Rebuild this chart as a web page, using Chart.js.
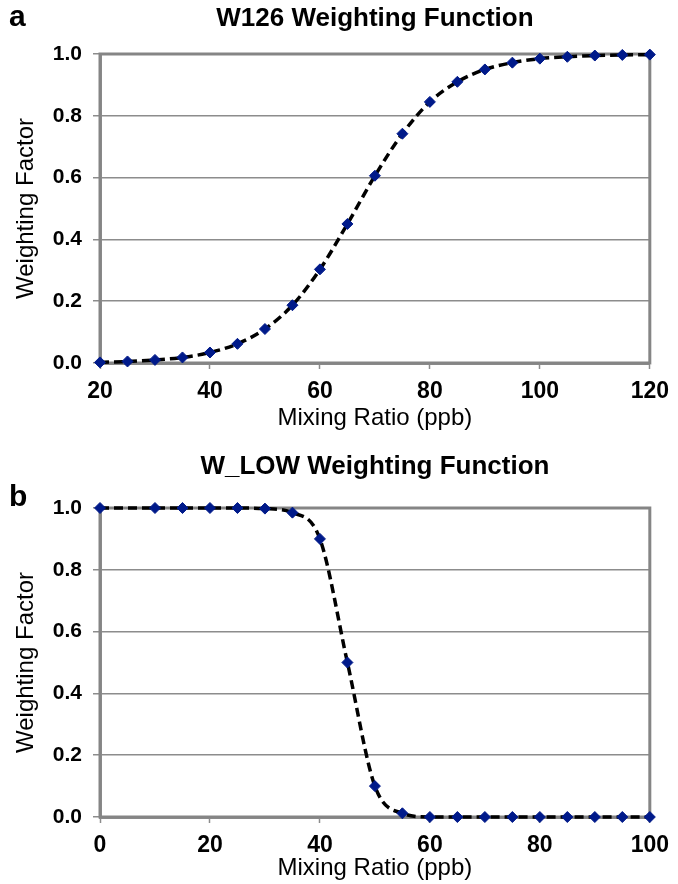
<!DOCTYPE html>
<html>
<head>
<meta charset="utf-8">
<script src="https://cdn.jsdelivr.net/npm/chart.js@4/dist/chart.umd.min.js"></script>
<style>
  html, body { margin: 0; padding: 0; background: #fff; overflow: hidden; }
  .panel { position: absolute; left: 0; width: 678px; }
</style>
</head>
<body>
<div class="panel" style="top:0;height:440px"><canvas id="chartA" width="678" height="440"></canvas></div>
<div class="panel" style="top:440px;height:444px"><canvas id="chartB" width="678" height="444"></canvas></div>
<script>
// ===== data =====
const w126Ratio = [20, 25, 30, 35, 40, 45, 50, 55, 60, 65, 70, 75, 80, 85, 90, 95, 100, 105, 110, 115, 120];
const w126Weight = [0.002, 0.005, 0.01, 0.018, 0.034, 0.062, 0.11, 0.187, 0.303, 0.45, 0.606, 0.742, 0.845, 0.91, 0.95, 0.972, 0.985, 0.991, 0.995, 0.997, 0.998];

const wlowRatio = [0, 10, 15, 20, 25, 30, 35, 40, 45, 50, 55, 60, 65, 70, 75, 80, 85, 90, 95, 100];
const wlowWeight = [1.0, 1.0, 1.0, 1.0, 1.0, 0.998, 0.985, 0.9, 0.5, 0.1, 0.012, 0, 0, 0, 0, 0, 0, 0, 0, 0];

const yTickValues = [0, 0.2, 0.4, 0.6, 0.8, 1.0];

const FONT = "'Liberation Sans', Arial, sans-serif";
const GRID = "#8c8c8c";
const MARKER = "#001a8a";

// ===== helpers =====
// draws panel letter + centred title above the plot
const panelText = {
    id: "panelText",
    afterDraw(chart, args, opts) {
        const { ctx, chartArea } = chart;
        ctx.save();
        ctx.fillStyle = "#000";
        ctx.textBaseline = "middle";
        ctx.font = "bold 26px " + FONT;
        ctx.textAlign = "center";
        ctx.fillText(opts.title, (chartArea.left + chartArea.right) / 2, opts.titleY);
        ctx.font = "bold 30px " + FONT;
        ctx.textAlign = "left";
        ctx.fillText(opts.letter, 9, opts.letterY);
        ctx.restore();
    }
};

// grey frame round the plot area (under the markers)
const plotFrame = {
    id: "plotFrame",
    beforeDatasetsDraw(chart) {
        const { ctx, chartArea: a } = chart;
        ctx.save();
        ctx.strokeStyle = "#858585";
        ctx.lineWidth = 3;
        ctx.strokeRect(a.left, a.top, a.right - a.left, a.bottom - a.top);
        ctx.restore();
    }
};

function makeChart(id, xs, ys, cfg) {
    const points = xs.map((x, i) => ({ x, y: ys[i] }));
    return new Chart(document.getElementById(id), {
        type: "scatter",
        data: {
            datasets: [{
                data: points,
                showLine: true,
                borderColor: "#000",
                borderWidth: 3.5,
                borderDash: [9, 5],
                cubicInterpolationMode: "monotone",
                pointStyle: "rectRot",
                pointRadius: 5.5,
                pointBackgroundColor: MARKER,
                pointBorderColor: MARKER,
                pointBorderWidth: 1,
                clip: false,
            }],
        },
        options: {
            responsive: false,
            animation: false,
            events: [],
            layout: { padding: { top: cfg.top, right: cfg.right, left: 0, bottom: 0 } },
            plugins: {
                legend: { display: false },
                tooltip: { enabled: false },
                panelText: { title: cfg.title, letter: cfg.letter, titleY: cfg.titleY, letterY: cfg.letterY },
            },
            scales: {
                x: {
                    type: "linear",
                    min: cfg.xMin,
                    max: cfg.xMax,
                    afterFit: s => { s.height = cfg.xAxisHeight; },
                    ticks: {
                        stepSize: 20,
                        padding: 9,
                        color: "#000",
                        font: { family: FONT, size: 23, weight: "bold" },
                    },
                    grid: { drawOnChartArea: false, tickLength: 6, tickColor: GRID, tickWidth: 1.5 },
                    border: { color: GRID, width: 3 },
                    title: {
                        display: true,
                        text: "Mixing Ratio (ppb)",
                        color: "#000",
                        font: { family: FONT, size: 24 },
                        padding: { top: 0, bottom: cfg.xTitlePad },
                    },
                },
                y: {
                    min: 0,
                    max: 1,
                    afterFit: s => { s.width = 100; },
                    afterBuildTicks: s => { s.ticks = yTickValues.map(v => ({ value: v })); },
                    ticks: {
                        padding: 11,
                        color: "#000",
                        font: { family: FONT, size: 21, weight: "bold" },
                        callback: v => v.toFixed(1),
                    },
                    grid: { color: GRID, lineWidth: 1.5, tickLength: 7, tickColor: GRID },
                    border: { color: GRID, width: 3 },
                    title: {
                        display: true,
                        text: "Weighting Factor",
                        color: "#000",
                        font: { family: FONT, size: 24 },
                        padding: { top: 12, bottom: 0 },
                    },
                },
            },
        },
        plugins: [plotFrame, panelText],
    });
}

makeChart("chartA", w126Ratio, w126Weight, {
    title: "W126 Weighting Function", letter: "a",
    titleY: 19, letterY: 18,
    top: 54, right: 21,
    xMin: 20, xMax: 120,
    xAxisHeight: 77, xTitlePad: 7,
});

makeChart("chartB", wlowRatio, wlowWeight, {
    title: "W_LOW Weighting Function", letter: "b",
    titleY: 27, letterY: 58,
    top: 68, right: 22,
    xMin: 0, xMax: 100,
    xAxisHeight: 67, xTitlePad: 1,
});
</script>
</body>
</html>
